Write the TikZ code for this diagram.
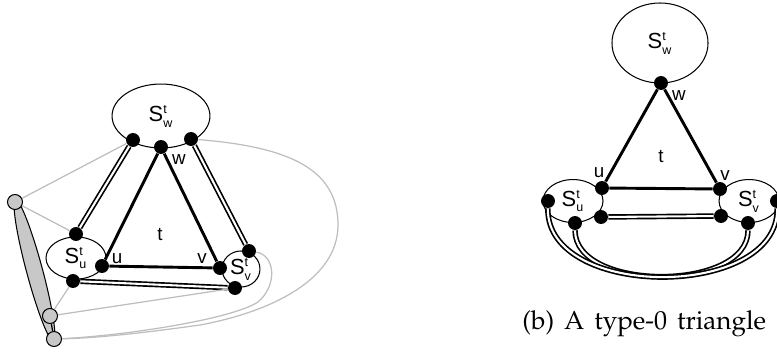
\documentclass[tikz,border=0pt]{standalone}
\usepackage[T1]{fontenc}
\usepackage{fontspec}
\newfontfamily\labelfont{Liberation Sans}
\definecolor{lgray}{RGB}{190,190,190}
\definecolor{fgray}{RGB}{200,200,200}
\usetikzlibrary{shapes.geometric,calc}
\newcommand{\setlbl}[1]{S$^{\mbox{\fontsize{6}{6}\selectfont t}}_{\mbox{\fontsize{6}{6}\selectfont #1}}$}

\begin{document}
\begin{tikzpicture}[x=0.48pt, y=-0.48pt,
  setnode/.style={draw, ellipse, inner sep=0pt, line width=0.5pt, font=\labelfont\fontsize{10.5}{10.5}\selectfont},
  dot/.style={circle, fill=black, inner sep=0pt, minimum size=6.7pt},
  gdot/.style={circle, draw, fill=fgray, inner sep=0pt, minimum size=7.2pt, line width=0.5pt},
  tri/.style={line width=1.4pt},
  dbl/.style={double, line width=0.8pt, double distance=1pt},
  gline/.style={draw=lgray, line width=0.6pt},
  lbl/.style={font=\labelfont\fontsize{9}{9}\selectfont}]
  \useasboundingbox (0,0) rectangle (777,356);

  %% (a) Sets
  \node[setnode, minimum width=47pt, minimum height=30.7pt] (swl) at (161,116) {\setlbl{w}};
  \node[setnode, minimum width=28.8pt, minimum height=20.2pt] (sul) at (76,258) {\setlbl{u}};
  \node[setnode, minimum width=18.2pt, minimum height=17.3pt] (svl) at (241,269) {\setlbl{v}};
  \node[draw, ellipse, fill=fgray, line width=0.5pt, inner sep=0pt, minimum width=70pt, minimum height=7.7pt, rotate=-75] (blob) at (34.5,270.5) {};

  %% (a) Vertices
  \node[dot] (wl1) at (133,140) {};
  \node[dot] (wl) at (161,147) {};
  \node[dot] (wl2) at (191,139) {};
  \node[dot] (ul) at (102,266) {};
  \node[dot] (vl) at (220,268) {};
  \node[dot] (ul1) at (76,234) {};
  \node[dot] (ul2) at (73,281) {};
  \node[dot] (vl1) at (249,251) {};
  \node[dot] (vl2) at (235,288) {};
  \node[gdot] (g1) at (15,202) {};
  \node[gdot] (g2) at (50,316) {};
  \node[gdot] (g3) at (54,339) {};

  \node[lbl] (lwl) at (179,160) {w};
  \node[lbl] (lul) at (117,259) {u};
  \node[lbl] (lvl) at (202,259) {v};
  \node[lbl] (ltl) at (160,235) {t};

  %% (a) Edges
  \draw[tri] (wl) -- (ul) -- (vl) -- (wl);
  \draw[dbl] (wl1) -- (ul1);
  \draw[dbl] (wl2) -- (vl1);
  \draw[dbl] (ul2) -- (vl2);
  \draw[gline] (g1) -- (wl1);
  \draw[gline] (g1) -- (ul1);
  \draw[gline] (g2) -- (ul2);
  \draw[gline] (g2) -- (vl2);
  \draw[gline] (wl2) .. controls (291,147) and (338,170) .. (338,225)
    .. controls (338,280) and (270,312) .. (200,325)
    .. controls (150,332) and (100,338) .. (g3);
  \draw[gline] (vl1) .. controls (275,255) and (278,285) .. (258,302)
    .. controls (230,320) and (120,336) .. (g3);
  \draw[line width=0.6pt] (g2) -- (g3);

  %% (b) Sets
  \node[setnode, minimum width=46.1pt, minimum height=38.4pt] (swr) at (660,43) {\setlbl{w}};
  \node[setnode, minimum width=28.8pt, minimum height=20.6pt] (sur) at (573,201) {\setlbl{u}};
  \node[setnode, minimum width=28.8pt, minimum height=20.6pt] (svr) at (749,201) {\setlbl{v}};

  %% (b) Vertices
  \node[dot] (wr) at (661,83) {};
  \node[dot] (ur) at (602,188) {};
  \node[dot] (vr) at (720,189) {};
  \node[dot] (ur1) at (548,201) {};
  \node[dot] (ur2) at (575,223) {};
  \node[dot] (ur3) at (601,217) {};
  \node[dot] (vr1) at (777,201) {};
  \node[dot] (vr2) at (748,223) {};
  \node[dot] (vr3) at (721,216) {};

  \node[lbl] (lwr) at (679,96) {w};
  \node[lbl] (lur) at (599,173) {u};
  \node[lbl] (lvr) at (725,176) {v};
  \node[lbl] (ltr) at (661,157) {t};

  %% (b) Edges
  \draw[tri] (wr) -- (ur) -- (vr) -- (wr);
  \draw[dbl] (ur3) -- (vr3);
  \draw[dbl] (ur2) .. controls (575,292) and (748,292) .. (vr2);
  \draw[dbl] (ur1) .. controls (546,300) and (779,300) .. (vr1);

  %% Caption
  \node[anchor=base west, inner sep=0pt, text width=117pt, align=left,
    font=\fontencoding{T1}\fontfamily{ppl}\fontsize{12.5}{14}\selectfont] (cap) at (522,329)
    {(b)\hfill A\hfill type-0\hfill triangle};
\end{tikzpicture}
\end{document}
